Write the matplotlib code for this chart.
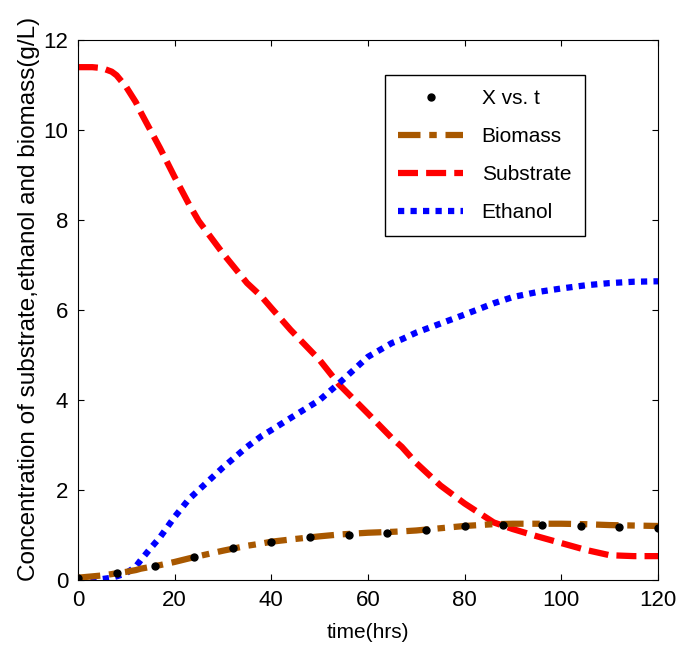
#!/usr/bin/env python3
import matplotlib

matplotlib.use("Agg")
import matplotlib.pyplot as plt

plt.rcParams["font.family"] = ["Liberation Sans", "DejaVu Sans"]

# measured points (X vs. t)
t_points = [0, 8, 16, 24, 32, 40, 48, 56, 64, 72, 80, 88, 96, 104, 112, 120]
x_points = [0.05, 0.15, 0.3, 0.5, 0.7, 0.85, 0.95, 1.0, 1.05, 1.1, 1.2, 1.22,
            1.22, 1.2, 1.18, 1.15]

# model curves
t_model = [0, 3, 5, 7, 8, 10, 12, 13, 15, 17, 20, 23, 25, 30, 35, 38, 40,
           44, 50, 54, 60, 65, 67, 70, 75, 80, 86, 90, 95, 100, 105, 110,
           115, 120]
biomass = [0.05, 0.08, 0.1, 0.13, 0.15, 0.18, 0.22, 0.25, 0.29, 0.33, 0.4,
           0.48, 0.53, 0.65, 0.76, 0.81, 0.85, 0.9, 0.97, 1.01, 1.05, 1.07,
           1.08, 1.1, 1.15, 1.2, 1.24, 1.25, 1.25, 1.25, 1.24, 1.22, 1.21,
           1.2]
substrate = [11.4, 11.4, 11.38, 11.3, 11.22, 10.96, 10.62, 10.4, 10.0, 9.6,
             8.96, 8.35, 7.98, 7.26, 6.6, 6.3, 6.05, 5.56, 4.89, 4.35, 3.7,
             3.15, 2.96, 2.6, 2.1, 1.7, 1.28, 1.13, 0.97, 0.82, 0.67, 0.55,
             0.53, 0.53]
ethanol = [0.0, 0.0, 0.02, 0.05, 0.08, 0.15, 0.3, 0.44, 0.7, 0.95, 1.4, 1.8,
           2.0, 2.5, 2.96, 3.2, 3.33, 3.6, 4.0, 4.37, 4.96, 5.27, 5.35, 5.5,
           5.7, 5.9, 6.15, 6.29, 6.4, 6.48, 6.55, 6.6, 6.63, 6.64]


def main() -> int:
    fig = plt.figure(figsize=(6.89, 6.48), dpi=100)
    ax = fig.add_axes([0.113, 0.105, 0.842, 0.833])

    ax.plot(t_points, x_points, "o", color="black", markersize=5,
            label="X vs. t", zorder=4)
    ax.plot(t_model, biomass, color="#A85800", linewidth=4.5,
            dashes=(3.6, 1.4, 1.2, 1.4), label="Biomass", zorder=3)
    ax.plot(t_model, substrate, color="#FF0000", linewidth=4.5,
            dashes=(3.2, 1.3), label="Substrate", zorder=2)
    ax.plot(t_model, ethanol, color="#0000FF", linewidth=4.5,
            dashes=(1.0, 1.0), label="Ethanol", zorder=2)

    ax.set_xlim(0, 120)
    ax.set_ylim(0, 12)
    ax.set_xticks(range(0, 121, 20))
    ax.set_yticks(range(0, 13, 2))
    ax.tick_params(direction="in", top=True, right=True, length=4,
                   labelsize=16, pad=7)
    ax.set_xlabel("time(hrs)", fontsize=15, labelpad=9)
    ax.set_ylabel("Concentration of substrate,ethanol and biomass(g/L)",
                  fontsize=17.5, labelpad=1)
    ax.yaxis.set_label_coords(-0.065, 0.52)

    leg = ax.legend(loc="upper left", bbox_to_anchor=(0.529, 0.935),
                    borderaxespad=0, fontsize=15, handlelength=3.1,
                    labelspacing=0.92, borderpad=0.65, handletextpad=0.9,
                    fancybox=False, framealpha=1, edgecolor="black")
    leg.get_frame().set_linewidth(1.0)

    fig.savefig("out.png", dpi=100)
    plt.close(fig)
    return 0


if __name__ == "__main__":
    raise SystemExit(main())
